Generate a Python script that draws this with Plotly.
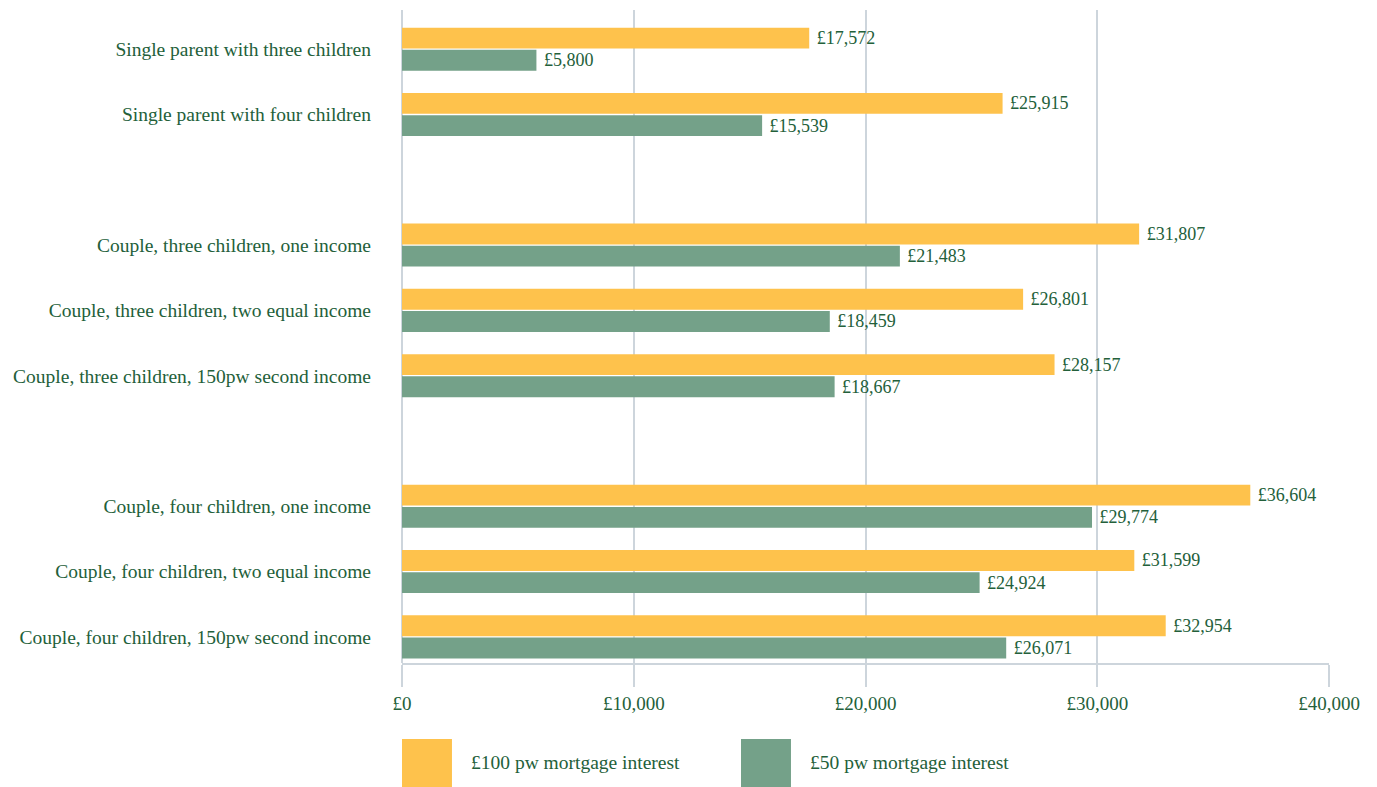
import plotly.graph_objects as go

categories = [
    "Single parent with three children",
    "Single parent with four children",
    "Couple, three children, one income",
    "Couple, three children, two equal income",
    "Couple, three children, 150pw second income",
    "Couple, four children, one income",
    "Couple, four children, two equal income",
    "Couple, four children, 150pw second income",
]
group_of = [0, 0, 1, 1, 1, 2, 2, 2]
series_names = ["£100 pw mortgage interest", "£50 pw mortgage interest"]
values_100 = [17572, 25915, 31807, 26801, 28157, 36604, 31599, 32954]
values_50 = [5800, 15539, 21483, 18459, 18667, 29774, 24924, 26071]
x_ticks = [0, 10000, 20000, 30000, 40000]
x_tick_labels = ["£0", "£10,000", "£20,000", "£30,000", "£40,000"]

YELLOW = "#FEC24C"
GREEN = "#74A189"
TEXT = "#23603A"
GRID = "#CDD5DC"
FONT = "Liberation Serif"

# positions: one empty slot between groups
ypos = [i + g for i, g in enumerate(group_of)]

fig = go.Figure()
for name, vals, col in [(series_names[0], values_100, YELLOW), (series_names[1], values_50, GREEN)]:
    fig.add_trace(go.Bar(
        y=ypos, x=vals, orientation="h", name=name,
        marker=dict(color=col, line=dict(width=0)),
        text=[f" £{v:,}" for v in vals], textposition="outside",
        textfont=dict(family=FONT, size=18, color=TEXT),
        cliponaxis=False, showlegend=False,
    ))

fig.update_layout(
    width=1377, height=787,
    margin=dict(l=394, r=56, t=2, b=132),
    plot_bgcolor="white", paper_bgcolor="white",
    barmode="group", bargap=0.32, bargroupgap=0.06,
    font=dict(family=FONT, size=19, color=TEXT),
)
fig.update_xaxes(
    range=[0, 40000], tickvals=x_ticks, ticktext=x_tick_labels,
    showgrid=True, gridcolor=GRID, gridwidth=1.5,
    zeroline=True, zerolinecolor=GRID, zerolinewidth=1.5,
    showline=True, linecolor=GRID, linewidth=1.5,
    ticks="outside", ticklen=22, tickcolor=GRID, tickwidth=1.5,
    tickfont=dict(family=FONT, size=19, color=TEXT),
)
fig.update_yaxes(
    range=[max(ypos) + 0.4, -0.6], tickvals=ypos, ticktext=categories,
    showgrid=False, zeroline=False, showline=False, ticks="",
    ticklabelstandoff=30,
    tickfont=dict(family=FONT, size=19.5, color=TEXT),
)

# legend drawn manually with large squares
legend_items = [(series_names[0], YELLOW, 0.0), (series_names[1], GREEN, 0.3657)]
for name, col, x0 in legend_items:
    fig.add_shape(type="rect", xref="paper", yref="paper",
                  x0=x0, x1=x0 + 0.0539, y0=-0.193, y1=-0.1164,
                  fillcolor=col, line=dict(width=0))
    fig.add_annotation(xref="paper", yref="paper", x=x0 + 0.0723, y=-0.1531,
                       text=name, showarrow=False, xanchor="left", yanchor="middle",
                       font=dict(family=FONT, size=19.5, color=TEXT))

fig.write_html("out.html")
